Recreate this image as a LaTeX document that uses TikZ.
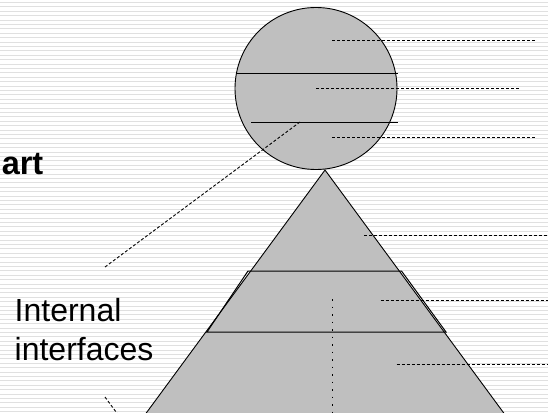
\documentclass[tikz,border=0pt]{standalone}
\usepackage{fontspec}
\setmainfont{Liberation Sans}
\usetikzlibrary{positioning}
\tikzset{
  body/.style={fill=black!25,draw=black,line width=0.9pt},
  divider/.style={line width=1pt},
  leader/.style={line width=0.9pt,dash pattern=on 3pt off 2pt},
  axisline/.style={line width=1pt,dash pattern=on 1.5pt off 6pt},
  stripe/.style={black!12,line width=0.9pt},
  bigtxt/.style={inner sep=0pt,font=\fontsize{32}{39}\selectfont}
}
\begin{document}
\begin{tikzpicture}[x=1pt,y=-1pt]
\useasboundingbox (0,0) rectangle (548,412);
\clip (0,0) rectangle (548,412);
% striped background
\foreach \y in {2.5,6.9,...,412} \draw[stripe] (0,\y) -- (548,\y);
% head
\node[body,circle,minimum size=162pt,inner sep=0pt] (head) at (316,88.5) {};
\coordinate (c1l) at (236,73);  \coordinate (c1r) at (398,73);
\coordinate (c2l) at (251,122); \coordinate (c2r) at (398,122);
\draw[divider] (c1l) -- (c1r);
\draw[divider] (c2l) -- (c2r);
% pyramid
\coordinate (apex) at (325,170);
\coordinate (baseL) at (141.1,420);
\coordinate (baseR) at (508.9,420);
\fill[black!25] (apex) -- (baseL) -- (baseR) -- cycle;
\draw[line width=0.9pt] (baseL) -- (apex) -- (baseR);
\coordinate (t1l) at (248,271); \coordinate (t1r) at (401.5,271);
\coordinate (t2l) at (207,332); \coordinate (t2r) at (446,332);
\draw[divider] (t1l) -- (t1r) -- (t2r) -- (t2l) -- cycle;
% leaders to the right
\coordinate (h1a) at (332,40);  \coordinate (h1b) at (536,40);
\coordinate (h2a) at (316,88.7);\coordinate (h2b) at (519,88.7);
\coordinate (h3a) at (332,137); \coordinate (h3b) at (536,137);
\draw[leader] (h1a) -- (h1b);
\draw[leader] (h2a) -- (h2b);
\draw[leader] (h3a) -- (h3b);
\coordinate (p1a) at (364,235);   \coordinate (p1b) at (550,235);
\coordinate (p2a) at (380.7,300); \coordinate (p2b) at (550,300);
\coordinate (p3a) at (396.7,364); \coordinate (p3b) at (550,364);
\draw[leader] (p1a) -- (p1b);
\draw[leader] (p2a) -- (p2b);
\draw[leader] (p3a) -- (p3b);
% centre axis
\coordinate (axtop) at (332,299);
\coordinate (axbot) at (332,415);
\draw[axisline] (axtop) -- (axbot);
% texts
\node[bigtxt,font=\bfseries\fontsize{32.5}{38}\selectfont,anchor=base east] (title) at (43.5,174.7) {art};
\node[bigtxt,align=left,anchor=north west] (intf) at (14.5,298) {Internal\\interfaces};
% leaders to the interfaces
\coordinate (lk1a) at (300,122);
\coordinate (lk1b) at (105,267);
\coordinate (lk2a) at (105,397);
\coordinate (lk2b) at (119,416);
\draw[leader] (lk1a) -- (lk1b);
\draw[leader] (lk2a) -- (lk2b);
\end{tikzpicture}
\end{document}
